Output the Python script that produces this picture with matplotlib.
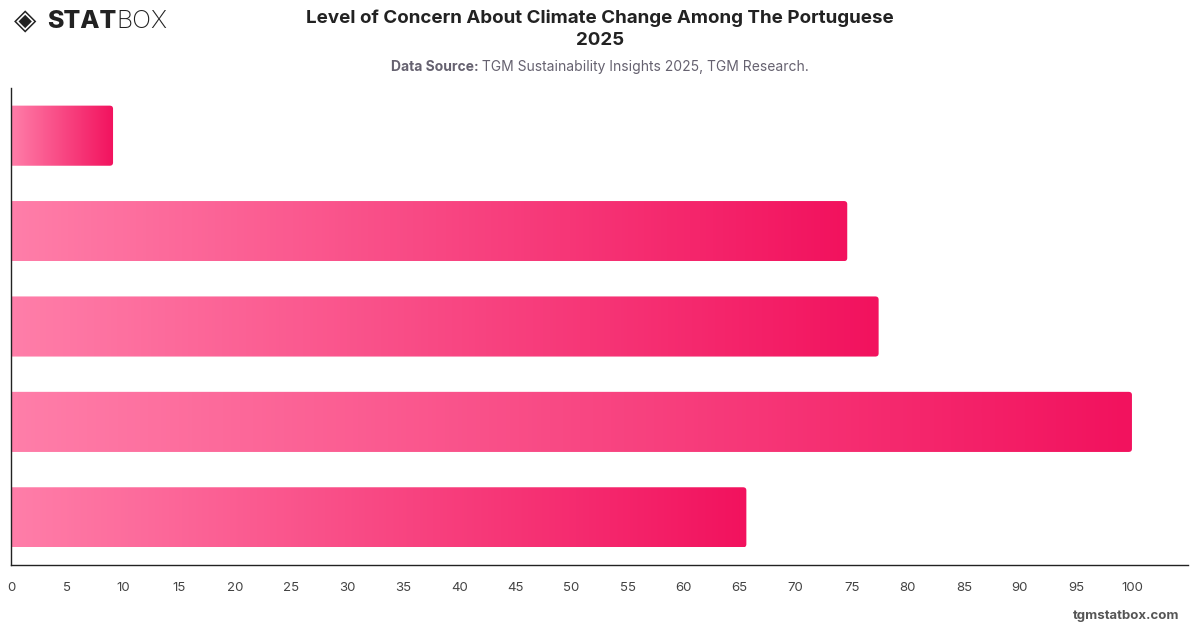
import numpy as np
import matplotlib
matplotlib.use("Agg")
import matplotlib.pyplot as plt
from matplotlib.patches import FancyBboxPatch
from matplotlib.colors import LinearSegmentedColormap

# values (no category labels are shown)
bar_index = [0, 1, 2, 3, 4]
concern_values = [9.1, 74.6, 77.4, 100.0, 65.6]
x_ticks = list(range(0, 101, 5))

TITLE = "Level of Concern About Climate Change Among The Portuguese\n2025"
SOURCE_LABEL = "Data Source:"
SOURCE_TEXT = " TGM Sustainability Insights 2025, TGM Research."
FOOTER = "tgmstatbox.com"

plt.rcParams["font.family"] = ["Inter", "DejaVu Sans"]
pink = LinearSegmentedColormap.from_list("pink", ["#FF7EA9", "#F2125E"])
grad = np.linspace(0, 1, 256).reshape(1, -1)

fig = plt.figure(figsize=(12, 6.28), dpi=100)
ax = fig.add_axes([0.0092, 0.1003, 0.9808, 0.7596])
ax.set_xlim(0, 105)
ax.set_ylim(4.5, -0.5)

# gradient bars, rounded on the right end only
bar_h = 0.63
for i, v in zip(bar_index, concern_values):
    y0 = i - bar_h / 2
    im = ax.imshow(grad, cmap=pink, aspect="auto", interpolation="bicubic",
                   extent=[0, v, y0 + bar_h, y0], zorder=2)
    clip = FancyBboxPatch((-2, y0), v + 2, bar_h,
                          boxstyle="round,pad=0,rounding_size=0.3",
                          mutation_aspect=0.11, transform=ax.transData,
                          facecolor="none", edgecolor="none")
    ax.add_patch(clip)
    im.set_clip_path(clip)

for side in ["top", "right"]:
    ax.spines[side].set_visible(False)
for side in ["left", "bottom"]:
    ax.spines[side].set_color("#222222")
    ax.spines[side].set_linewidth(1.0)
ax.set_yticks([])
ax.set_xticks(x_ticks)
ax.set_xticklabels([str(t) for t in x_ticks], fontsize=9.5, color="#444444")
ax.tick_params(axis="x", length=0, pad=12)

# header
fig.text(0.5, 0.954, TITLE, ha="center", va="center", fontsize=13.5,
         fontweight="bold", color="#222222", linespacing=1.4)

lab = fig.text(0, 0.893, SOURCE_LABEL, ha="left", va="center", fontsize=10,
               fontweight="bold", color="#666270")
rest = fig.text(0, 0.893, SOURCE_TEXT, ha="left", va="center", fontsize=10,
                color="#666270")
fig.canvas.draw()
w1 = lab.get_window_extent().width / fig.bbox.width
w2 = rest.get_window_extent().width / fig.bbox.width
start = 0.5 - (w1 + w2) / 2
lab.set_x(start)
rest.set_x(start + w1)

# logo
fig.text(0.012, 0.966, "\u25c8", ha="left", va="center", fontsize=21,
         color="#222222", family="DejaVu Sans", fontweight="bold")
logo_a = fig.text(0.039, 0.966, "STAT", ha="left", va="center", fontsize=18,
                  fontweight="heavy", color="#222222")
fig.canvas.draw()
wa = logo_a.get_window_extent().width / fig.bbox.width
fig.text(0.039 + wa, 0.966, "BOX", ha="left", va="center", fontsize=18,
         fontweight="light", color="#222222")

fig.text(0.983, 0.019, FOOTER, ha="right", va="center", fontsize=9.5,
         fontweight="bold", color="#555555")

fig.savefig("out.png", dpi=100, facecolor="white")
